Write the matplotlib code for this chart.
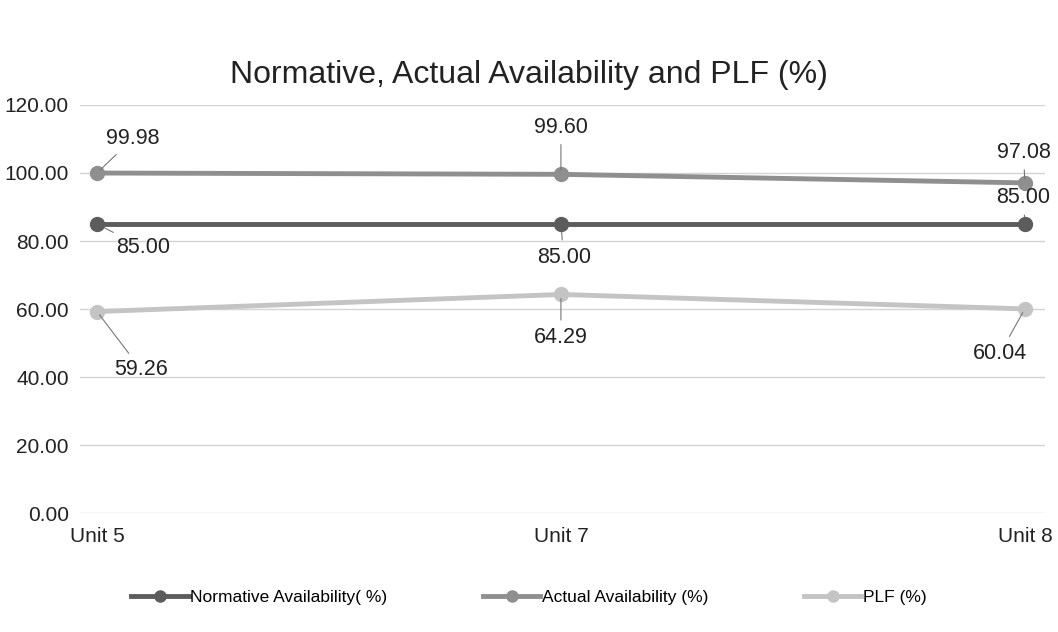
import matplotlib.pyplot as plt

# dados do gráfico
unidades = ['Unit 5', 'Unit 7', 'Unit 8']
normativa = [85.00, 85.00, 85.00]
real = [99.98, 99.60, 97.08]
plf = [59.26, 64.29, 60.04]
rotulos_y = ['0.00', '20.00', '40.00', '60.00', '80.00', '100.00', '120.00']

plt.rcParams['font.family'] = ['Liberation Sans', 'DejaVu Sans']

fig = plt.figure(figsize=(10.58, 6.32), dpi=100)
ax = fig.add_axes([0.0756, 0.188, 0.912, 0.646])

x = range(len(unidades))
cor_norm = '#5c5c5c'
cor_real = '#8f8f8f'
cor_plf = '#c4c4c4'

ax.plot(x, normativa, color=cor_norm, lw=3.5, marker='o', ms=10, label='Normative Availability( %)', clip_on=False, zorder=4)
ax.plot(x, real, color=cor_real, lw=3.5, marker='o', ms=10, label='Actual Availability (%)', clip_on=False, zorder=3)
ax.plot(x, plf, color=cor_plf, lw=3.5, marker='o', ms=10, label='PLF (%)', clip_on=False, zorder=3)

# rótulos de dados com linha de chamada (offsets em pontos)
offsets = {
    'real': [(26, 25), (0, 34), (-1, 22)],
    'norm': [(33, -17), (2, -24), (-1, 19)],
    'plf': [(32, -42), (0, -31), (-18, -32)],
}
for serie, vals in (('real', real), ('norm', normativa), ('plf', plf)):
    for i, v in enumerate(vals):
        ax.annotate('%.2f' % v, (i, v), xytext=offsets[serie][i], textcoords='offset points',
                    ha='center', va='center', fontsize=15.5, color='#222222',
                    arrowprops=dict(arrowstyle='-', color='#777777', lw=0.8, shrinkA=3, shrinkB=3))

ax.set_xlim(-0.0366, 2.0431)
ax.set_ylim(0, 120)
ax.set_yticks(range(0, 121, 20))
ax.set_yticklabels(rotulos_y)
ax.set_xticks(list(x))
ax.set_xticklabels(unidades)
ax.tick_params(axis='both', length=0, labelsize=15, colors='#222222')
ax.tick_params(axis='x', pad=10)
ax.tick_params(axis='y', pad=8)
ax.grid(axis='y', color='#d4d4d4', lw=1)
ax.set_axisbelow(True)
for s in ax.spines.values():
    s.set_visible(False)

fig.suptitle('Normative, Actual Availability and PLF (%)', y=0.905, fontsize=23, color='#222222')

fig.legend(loc='center', bbox_to_anchor=(0.5, 0.054), ncol=3, frameon=False, fontsize=12.5,
           handlelength=3.3, columnspacing=5.5, handletextpad=0.1, markerscale=0.8)

fig.savefig('out.png', dpi=100)
